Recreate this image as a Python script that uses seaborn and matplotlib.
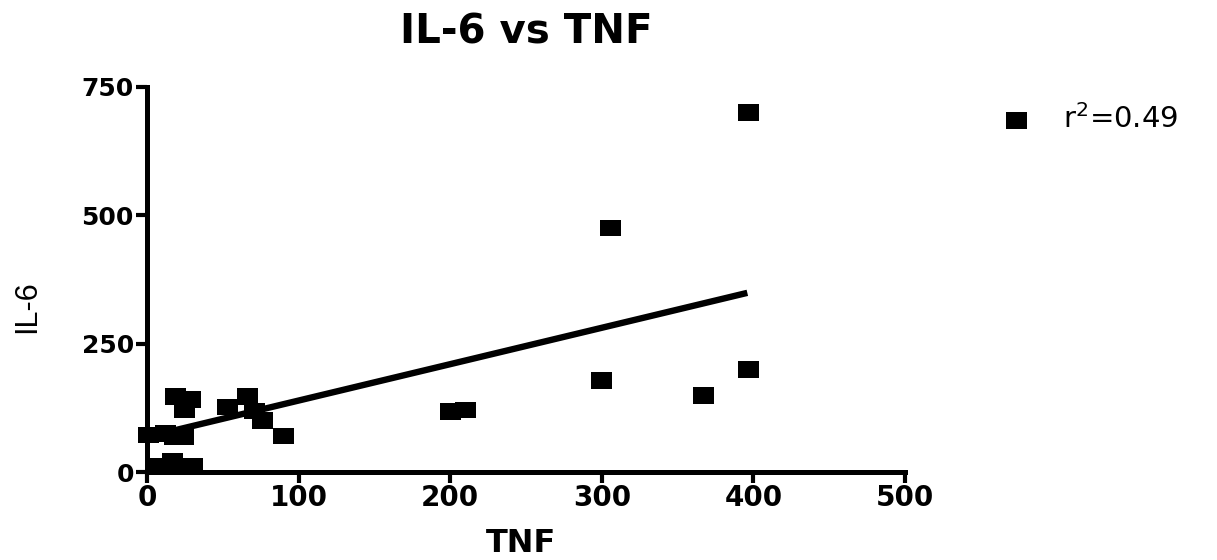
import matplotlib
matplotlib.use("Agg")
import matplotlib.pyplot as plt
import pandas as pd
import seaborn as sns

# ---- data ----
tnf = [0.7, 12, 18, 24, 18.5, 28.4, 25, 9, 17, 30, 53.4, 66, 71, 76.5, 90,
       200, 210, 299.5, 306, 367, 397, 397]
il6 = [72, 75, 68, 68, 147, 141, 121, 12, 20, 12, 127, 147, 119, 100, 70,
       118, 121, 178, 475, 149, 700, 200]
fit_tnf = [1, 396]
fit_il6 = [69, 349]
x_ticks = [0, 100, 200, 300, 400, 500]
y_ticks = [0, 250, 500, 750]
legend_label = "r$^{2}$=0.49"
title = "IL-6 vs TNF"
x_label = "TNF"
y_label = "IL-6"

sns.set_theme(style="ticks", rc={
    "text.color": "black", "axes.labelcolor": "black",
    "xtick.color": "black", "ytick.color": "black",
    "axes.edgecolor": "black",
})
plt.rcParams["font.family"] = ["DejaVu Sans"]
plt.rcParams["mathtext.default"] = "regular"

W, H = 1217, 560
fig = plt.figure(figsize=(W / 100, H / 100), dpi=100)
ax = fig.add_axes([147 / W, 1 - 472 / H, (905 - 147) / W, (472 - 87) / H])

rect = [(-1, -0.79), (1, -0.79), (1, 0.79), (-1, 0.79), (-1, -0.79)]
df = pd.DataFrame({"TNF": tnf, "IL-6": il6})

sns.lineplot(x=fit_tnf, y=fit_il6, ax=ax, color="black", linewidth=4.6,
             solid_capstyle="butt", zorder=2)
sns.scatterplot(data=df, x="TNF", y="IL-6", ax=ax, marker=rect, s=228,
                color="black", edgecolor="none", linewidth=0, clip_on=False,
                zorder=3, label=legend_label, legend=False)

ax.set_xlim(0, 500)
ax.set_ylim(0, 750)
ax.set_xticks(x_ticks, labels=[str(t) for t in x_ticks],
              fontsize=20, fontweight="bold")
ax.set_yticks(y_ticks, labels=[str(t) for t in y_ticks],
              fontsize=18, fontweight="bold")
sns.despine(ax=ax)
for s in ["left", "bottom"]:
    ax.spines[s].set_linewidth(3.6)
    ax.spines[s].set_capstyle("projecting")
ax.tick_params(axis="both", direction="out", length=8, width=3, color="black")
ax.tick_params(axis="x", pad=1)
ax.tick_params(axis="y", pad=1.5)

ax.set_xlabel(x_label, fontsize=23, fontweight="bold", va="center")
ax.xaxis.set_label_coords(0.494, -0.186)
ax.set_ylabel(y_label, fontsize=22, family=["Liberation Sans", "DejaVu Sans"],
              va="center")
ax.yaxis.set_label_coords(-0.158, 0.43)
ax.set_title(title, fontsize=29, fontweight="bold", pad=31)

handles, labels = ax.get_legend_handles_labels()
ax.legend(handles, labels, loc="center left",
          bbox_to_anchor=(1002 / W, 1 - 119 / H), bbox_transform=fig.transFigure,
          frameon=False, fontsize=21, handlelength=1.0, handletextpad=1.1,
          borderpad=0, borderaxespad=0, scatterpoints=1)

fig.savefig("out.png", dpi=100)
